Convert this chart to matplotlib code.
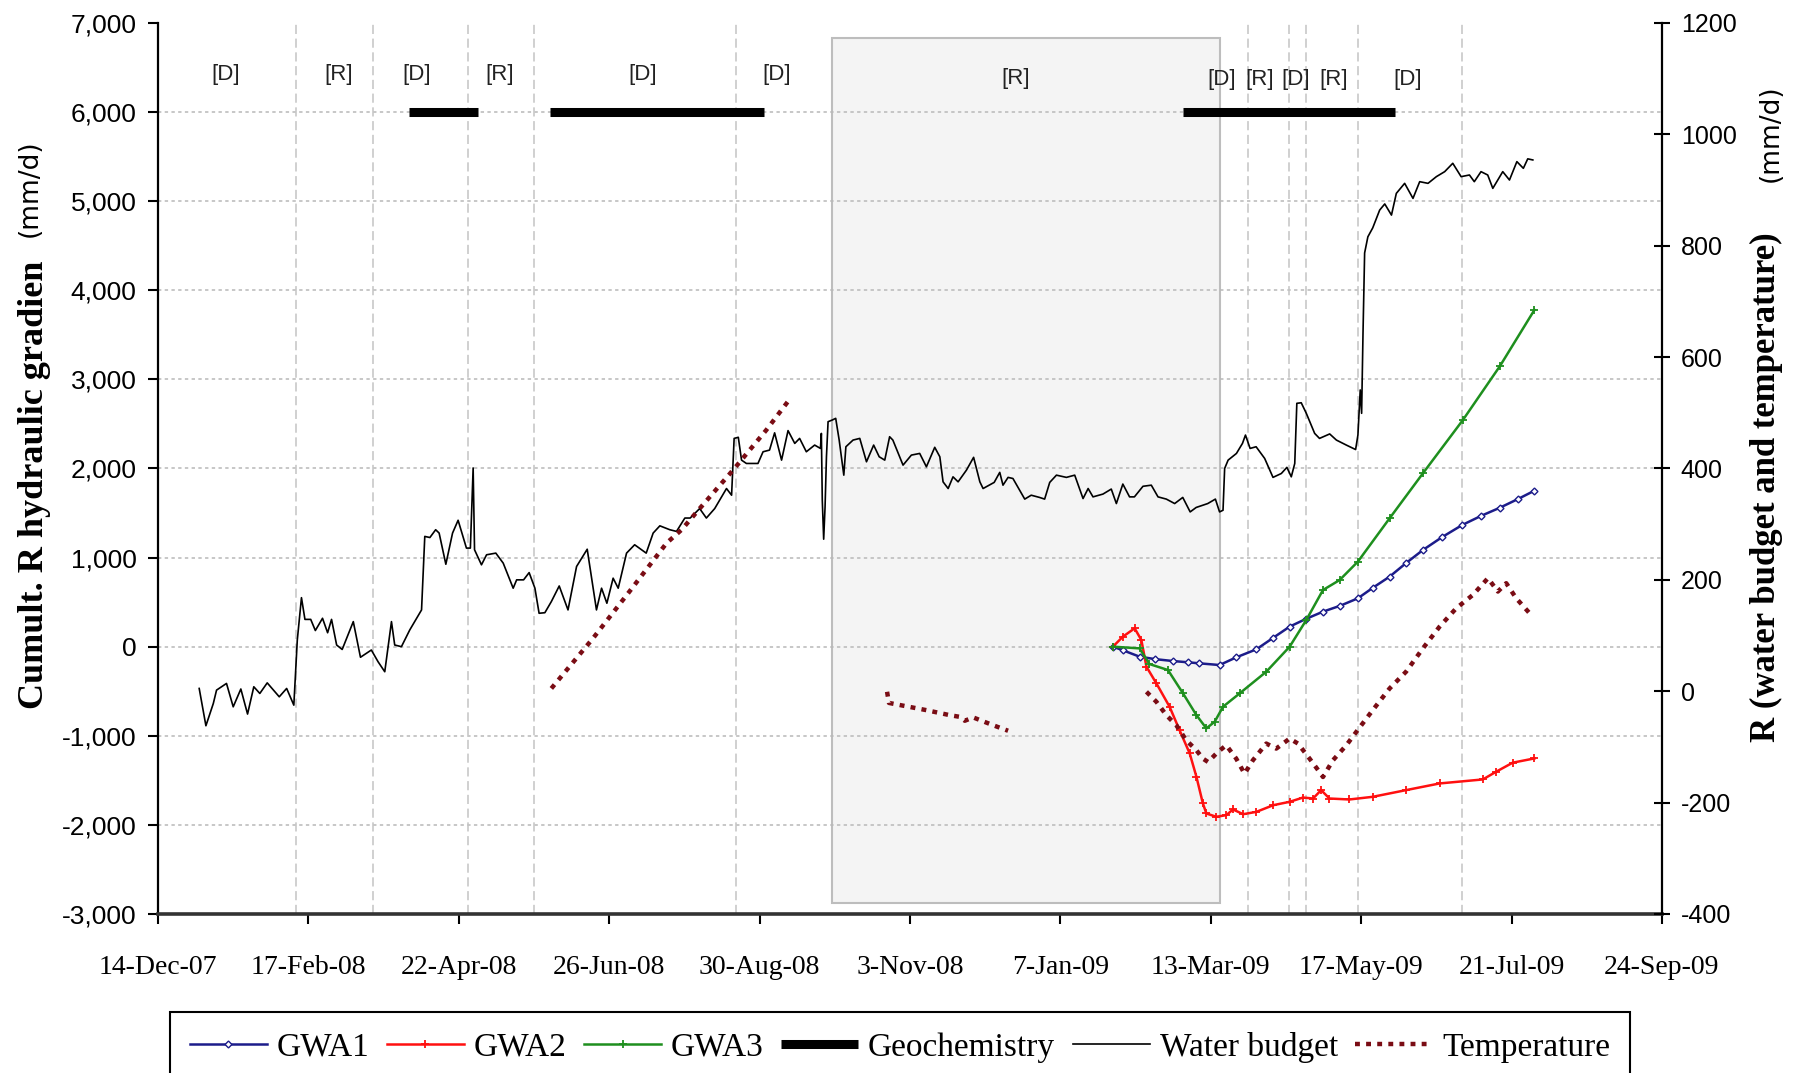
import datetime as dt

import numpy as np
import matplotlib
matplotlib.use("Agg")
import matplotlib.pyplot as plt
import matplotlib.dates as mdates
from matplotlib.patches import Rectangle
from matplotlib.lines import Line2D
from matplotlib.ticker import FuncFormatter, FixedLocator

plt.rcParams["axes.unicode_minus"] = False

START = dt.datetime(2007, 12, 14)

TICK_LABELS = ["14-Dec-07", "17-Feb-08", "22-Apr-08", "26-Jun-08", "30-Aug-08",
               "3-Nov-08", "7-Jan-09", "13-Mar-09", "17-May-09", "21-Jul-09",
               "24-Sep-09"]

# Water budget recharge R (mm/d), right axis; day = days since 14-Dec-07
WB_DAYS = [17.8, 20.7, 23.9, 25.3, 29.6, 32.5, 35.8, 38.7, 41.4, 44.0, 47.2, 52.4,
           55.6, 58.7, 60.2, 62.0, 63.5, 66.0, 68.0, 71.1, 73.3, 75.0, 77.2, 79.6,
           84.4, 87.5, 92.2, 95.1, 98.0, 100.9, 102.3, 105.2, 108.8, 113.9, 115.3,
           117.5, 120.0, 121.5, 124.4, 127.3, 129.7, 133.3, 135.0, 136.2, 136.8,
           139.8, 142.0, 146.0, 149.2, 153.5, 155.0, 158.0, 160.4, 162.9, 164.7,
           167.2, 170.0, 173.4, 177.2, 180.9, 185.5, 189.5, 191.7, 194.0, 196.7,
           198.9, 202.5, 206.0, 211.0, 214.0, 216.9, 221.2, 224.1, 227.7, 230.0,
           234.1, 237.0, 240.6, 245.7, 247.9, 249.0, 250.8, 252.2, 254.3, 259.3,
           261.5, 264.3, 266.5, 269.5, 272.3, 275.2, 277.3, 280.2, 283.8, 286.3,
           286.7, 287.1, 287.7, 288.3, 288.9, 289.6, 291.4, 292.9, 294.4, 296.4,
           297.3, 300.4, 303.3, 306.2, 309.3, 311.7, 314.1, 316.2, 317.6, 322.0,
           325.6, 329.2, 332.1, 335.7, 337.9, 339.3, 341.5, 343.6, 345.8, 349.4,
           352.5, 355.2, 356.6, 361.4, 363.8, 365.2, 367.4, 369.5, 374.6, 377.4,
           381.0, 383.2, 385.4, 388.3, 392.6, 396.2, 399.8, 402.0, 404.1, 408.4,
           412.0, 414.2, 417.0, 419.9, 422.0, 425.7, 429.3, 432.2, 435.8, 439.4,
           442.9, 446.1, 448.7, 453.7, 457.0, 458.8, 460.3, 461.0, 462.5, 466.1,
           468.7, 470.0, 472.0, 474.6, 478.3, 481.9, 485.5, 487.9, 489.8, 491.3,
           492.2, 494.1, 496.3, 499.9, 502.0, 506.4, 509.3, 513.6, 517.6, 518.6,
           519.6, 520.2, 520.8, 521.5, 522.9, 525.0, 528.0, 530.2, 533.1, 535.2,
           538.8, 542.4, 545.3, 548.9, 552.5, 556.1, 559.6, 563.2, 566.8, 568.9,
           571.8, 574.7, 576.9, 581.2, 584.1, 587.3, 590.1, 592.0, 594.2]
WB_R = [5, -62, -22, 2, 14, -28, 4, -41, 8, -4, 15, -10,
        5, -25, 92, 168, 129, 129, 109, 131, 105, 129, 83, 75,
        125, 61, 74, 53, 35, 125, 83, 80, 110, 146, 278,
        276, 290, 284, 228, 284, 307, 257, 257, 401, 254,
        227, 245, 248, 230, 185, 200, 200, 213, 185, 140,
        141, 161, 189, 146, 224, 255, 146, 185, 158, 203,
        185, 248, 263, 248, 284, 297, 290, 287, 311, 311,
        328, 311, 328, 364, 352, 454, 456, 415, 409, 409,
        430, 433, 464, 415, 468, 445, 454, 430, 442, 436,
        463, 343, 273, 331, 421, 484, 487, 490, 451, 388,
        439, 451, 454, 412, 442, 421, 415, 457, 451, 406,
        424, 427, 403, 438, 421, 376, 364, 385, 376, 397,
        420, 376, 364, 375, 393, 370, 384, 382, 345, 352,
        348, 345, 375, 388, 384, 388, 346, 364, 349, 354,
        363, 337, 372, 349, 349, 368, 370, 349, 345, 337,
        348, 322, 330, 337, 345, 322, 325, 400, 415, 427,
        445, 460, 436, 439, 418, 384, 391, 402, 385, 409,
        517, 518, 499, 463, 454, 462, 451, 442, 434, 460,
        541, 499, 643, 787, 816, 832, 864, 875, 855, 894,
        912, 885, 915, 912, 924, 933, 948, 924, 927, 915,
        933, 927, 903, 933, 918, 951, 939, 956, 954]

# Cumulative R from hydraulic gradient (mm/d), left axis
GWA1_DAYS = [412.7, 417.0, 424.2, 431.0, 438.6, 445.0, 450.1, 458.8, 466.0, 474.7,
             482.0, 489.1, 496.0, 503.5, 511.0, 518.6, 525.0, 532.3, 539.5, 546.7,
             555.0, 563.7, 572.0, 580.0, 588.0, 594.9]
GWA1 = [0, -40, -112, -140, -161, -175, -187, -206, -120, -30,
        100, 225, 310, 393, 460, 543, 660, 786, 940, 1085,
        1230, 1366, 1470, 1560, 1660, 1751]

GWA2_DAYS = [412.7, 417.0, 422.1, 425.0, 427.2, 431.5, 437.2, 441.5, 445.9, 448.8,
             451.6, 453.1, 457.4, 461.7, 464.6, 469.0, 474.7, 482.0, 489.1, 494.9,
             499.2, 502.7, 506.3, 514.9, 525.0, 539.4, 553.9, 572.6, 578.3, 585.5,
             594.9]
GWA2 = [0, 112, 206, 75, -225, -412, -674, -936, -1198, -1460,
        -1760, -1872, -1909, -1891, -1827, -1880, -1854, -1779, -1741, -1693,
        -1704, -1610, -1704, -1715, -1685, -1610, -1535, -1490, -1404, -1302,
        -1254]

GWA3_DAYS = [412.7, 424.2, 428.5, 436.5, 443.0, 448.8, 453.1, 456.7, 460.3, 467.5,
             479.0, 489.1, 496.3, 503.5, 510.7, 518.6, 532.3, 546.7, 564.0, 580.0,
             594.9]
GWA3 = [0, -19, -195, -262, -524, -768, -917, -842, -674, -524,
        -281, 0, 300, 636, 748, 955, 1441, 1946, 2545, 3150,
        3780]

# Temperature-derived recharge (mm/d), right axis, three logging periods
TEMP1_DAYS = [170.0, 188.0, 203.2, 219.8, 226.3, 234.1, 248.5, 262.9, 273.3]
TEMP1 = [5, 95, 176, 266, 290, 328, 397, 469, 526]

TEMP2_DAYS = [315.1, 315.9, 332.1, 342.2, 346.5, 348.7, 352.3, 360.9, 367.4]
TEMP2 = [-1, -21, -34, -43, -46, -53, -47, -61, -71]

TEMP3_DAYS = [427.2, 431.5, 435.8, 440.1, 444.4, 448.8, 451.6, 453.8, 458.1, 461.7,
              466.0, 469.6, 473.2, 479.0, 483.3, 489.1, 492.7, 497.7, 502.0, 503.5,
              507.8, 513.6, 517.9, 525.0, 532.3, 539.4, 546.7, 553.9, 561.1, 568.3,
              574.8, 579.1, 582.7, 587.0, 592.8]
TEMP3 = [-1, -19, -43, -61, -88, -106, -121, -127, -109, -97,
         -121, -148, -124, -94, -103, -85, -94, -121, -145, -154,
         -124, -97, -73, -34, 5, 35, 77, 116, 149, 173,
         203, 179, 194, 167, 140]

# Geochemistry sampling periods
GEO_START = [108.3, 169.5, 442.8]
GEO_END = [138.3, 261.7, 534.8]
GEO_LEVEL = 6000

# Dry / recharge period markers
PERIOD_LABELS = ["[D]", "[R]", "[D]", "[R]", "[D]", "[D]", "[R]",
                 "[D]", "[R]", "[D]", "[R]", "[D]"]
PERIOD_DAYS = [29.4, 78.3, 111.7, 147.6, 209.5, 267.3, 370.6,
               459.9, 476.3, 491.8, 508.2, 540.1]
PERIOD_LEVEL = [6420, 6420, 6420, 6420, 6420, 6420, 6380,
                6360, 6360, 6360, 6360, 6360]
PERIOD_BOUNDS = [59.8, 93.0, 134.0, 162.4, 249.6, 471.2, 488.9, 496.3,
                 518.6, 563.7]

# Shaded period
SHADE_DAYS = (291.2, 458.8)
SHADE_LEVELS = (-2880, 6830)


def to_dates(days):
    return [START + dt.timedelta(days=float(d)) for d in days]


SERIF = "Liberation Serif"
SANS = "Liberation Sans"

fig = plt.figure(figsize=(18.10, 10.73), dpi=100)
ax = fig.add_axes([0.0873, 0.1482, 0.8309, 0.8304])
ax2 = ax.twinx()

tick_dates = [dt.datetime.strptime(t, "%d-%b-%y") for t in TICK_LABELS]
ax.set_xlim(tick_dates[0], tick_dates[-1])
ax.set_ylim(-3000, 7000)
ax2.set_ylim(-400, 1200)

# shaded block
x0, x1 = to_dates(SHADE_DAYS)
ax.add_patch(Rectangle((mdates.date2num(x0), SHADE_LEVELS[0]),
                       mdates.date2num(x1) - mdates.date2num(x0),
                       SHADE_LEVELS[1] - SHADE_LEVELS[0],
                       facecolor="#f4f4f4", edgecolor="#bdbdbd", lw=1.5, zorder=0.5))

# grid
for v in range(-2000, 7000, 1000):
    ax.axhline(v, color="#b8b8b8", lw=1.1, ls=(0, (2.2, 2.2)), zorder=1)
for d in to_dates(PERIOD_BOUNDS):
    ax.axvline(d, color="#c4c4c4", lw=1.1, ls=(0, (6, 3)), zorder=1)

# geochemistry bars
for a, b in zip(GEO_START, GEO_END):
    ax.plot(to_dates([a, b]), [GEO_LEVEL, GEO_LEVEL], color="black", lw=6.5,
            solid_capstyle="butt", zorder=3)

for lab, d, lv in zip(PERIOD_LABELS, PERIOD_DAYS, PERIOD_LEVEL):
    ax.text(to_dates([d])[0], lv, lab, ha="center", va="center", fontsize=16,
            family=SANS, color="#222222", zorder=4)

# hydraulic gradient series
ax.plot(to_dates(GWA1_DAYS), GWA1, color="#1c1c8a", lw=1.8, marker="D", ms=3.5,
        mfc="white", mec="#1c1c8a", mew=1.0, zorder=4)
ax.plot(to_dates(GWA2_DAYS), GWA2, color="#ff1010", lw=1.8, marker="+", ms=6,
        mew=1.3, zorder=4)
ax.plot(to_dates(GWA3_DAYS), GWA3, color="#1e8f1e", lw=1.8, marker="+", ms=6,
        mew=1.3, zorder=4)

# water budget and temperature
ax2.plot(to_dates(WB_DAYS), WB_R, color="black", lw=1.2, zorder=3)
temp_style = dict(color="#7a0c14", lw=3.2, ls=(0, (1.1, 1.4)), zorder=3)
ax2.plot(to_dates(TEMP1_DAYS), TEMP1, **temp_style)
ax2.plot(to_dates(TEMP2_DAYS), TEMP2, **temp_style)
ax2.plot(to_dates(TEMP3_DAYS), TEMP3, **temp_style)

# axes styling
ax.xaxis.set_major_locator(FixedLocator(mdates.date2num(tick_dates)))
ax.set_xticklabels(TICK_LABELS, family=SERIF, fontsize=20)
ax.yaxis.set_major_locator(FixedLocator(range(-3000, 7001, 1000)))
ax.yaxis.set_major_formatter(FuncFormatter(lambda v, p: f"{v:,.0f}"))
ax2.yaxis.set_major_locator(FixedLocator(range(-400, 1201, 200)))
ax2.yaxis.set_major_formatter(FuncFormatter(lambda v, p: f"{v:.0f}"))
for lab in ax.get_yticklabels():
    lab.set_family(SANS)
for lab in ax2.get_yticklabels():
    lab.set_family(SANS)
ax.tick_params(axis="x", direction="out", length=7.5, width=1.5, pad=22)
ax.tick_params(axis="y", direction="out", length=7.5, width=1.5, pad=8, labelsize=19)
ax2.tick_params(axis="y", direction="inout", length=11, width=1.5, pad=8, labelsize=18)

for s in ("top", "right"):
    ax.spines[s].set_visible(False)
for s in ("top", "left", "bottom"):
    ax2.spines[s].set_visible(False)
ax.spines["left"].set_linewidth(1.6)
ax.spines["bottom"].set_linewidth(2.6)
ax.spines["bottom"].set_color("#333333")
ax2.spines["right"].set_linewidth(1.6)

# axis titles
fig.text(35 / 1810, 1 - 485 / 1073, "Cumult. R hydraulic gradien", rotation=90,
         ha="center", va="center", family=SERIF, weight="bold", fontsize=26)
fig.text(30 / 1810, 1 - 188 / 1073, "(mm/d)", rotation=90, ha="center",
         va="center", family="DejaVu Sans", fontsize=19)
fig.text(1766 / 1810, 1 - 487 / 1073, "R (water budget and temperature)",
         rotation=90, ha="center", va="center", family=SERIF, weight="bold",
         fontsize=25)
fig.text(1771 / 1810, 1 - 133 / 1073, "(mm/d)", rotation=90, ha="center",
         va="center", family="DejaVu Sans", fontsize=19)

# legend
handles = [
    Line2D([], [], color="#1c1c8a", lw=1.8, marker="D", ms=3.5, mfc="white",
           mec="#1c1c8a", mew=1.0),
    Line2D([], [], color="#ff1010", lw=1.8, marker="+", ms=6, mew=1.3),
    Line2D([], [], color="#1e8f1e", lw=1.8, marker="+", ms=6, mew=1.3),
    Line2D([], [], color="black", lw=6.5, solid_capstyle="butt"),
    Line2D([], [], color="black", lw=1.2),
    Line2D([], [], **temp_style),
]
labels = ["GWA1", "GWA2", "GWA3", "Geochemistry", "Water budget", "Temperature"]
leg = fig.legend(handles, labels, loc="upper left",
                 bbox_to_anchor=(170 / 1810, 1 - 1012 / 1073), ncol=6,
                 prop={"family": SERIF, "size": 24}, handlelength=2.3,
                 handletextpad=0.3, columnspacing=0.53, borderpad=0.6,
                 fancybox=False, framealpha=1, edgecolor="black",
                 borderaxespad=0)
leg.get_frame().set_linewidth(1.5)

fig.savefig("out.png", dpi=100)
